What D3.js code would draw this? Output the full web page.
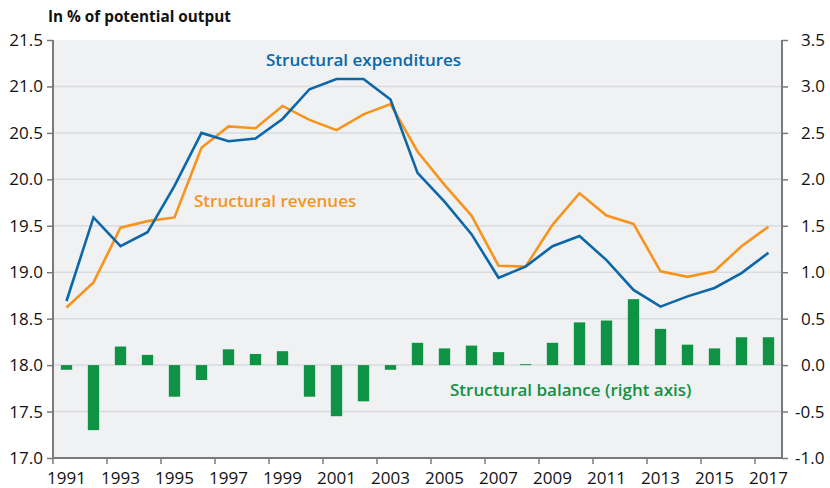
<!DOCTYPE html>
<html>
<head>
<meta charset="utf-8">
<script src="https://cdn.jsdelivr.net/npm/d3@7"></script>
<style>
  body { margin: 0; background: #fff; }
  svg { display: block; font-family: "Open Sans", "Noto Sans", sans-serif; }
</style>
</head>
<body>
<svg id="chart" width="830" height="488"></svg>
<script>
// years on the x axis
var years = d3.range(1991, 2018);
var yearTicks = years.filter(function(y) { return y % 2 === 1; });

// structural expenditures, % of potential output (left axis)
var expenditures = [18.69, 19.59, 19.28, 19.43, 19.93, 20.50, 20.41, 20.44, 20.65, 20.97,
                    21.08, 21.08, 20.86, 20.07, 19.76, 19.41, 18.94, 19.06, 19.28, 19.39,
                    19.13, 18.81, 18.63, 18.74, 18.83, 18.99, 19.21];

// structural revenues, % of potential output (left axis)
var revenues = [18.62, 18.89, 19.48, 19.55, 19.59, 20.34, 20.57, 20.55, 20.79, 20.64,
                20.53, 20.70, 20.81, 20.30, 19.94, 19.61, 19.07, 19.06, 19.51, 19.85,
                19.61, 19.52, 19.01, 18.95, 19.01, 19.28, 19.49];

// structural balance (right axis)
var balance = [-0.05, -0.70, 0.20, 0.11, -0.34, -0.16, 0.17, 0.12, 0.15, -0.34,
               -0.55, -0.39, -0.05, 0.24, 0.18, 0.21, 0.14, 0.01, 0.24, 0.46,
               0.48, 0.71, 0.39, 0.22, 0.18, 0.30, 0.30];

var leftTicks = [17.0, 17.5, 18.0, 18.5, 19.0, 19.5, 20.0, 20.5, 21.0, 21.5];
var rightTicks = [-1.0, -0.5, 0.0, 0.5, 1.0, 1.5, 2.0, 2.5, 3.0, 3.5];

var svg = d3.select("#chart"),
    margin = {top: 40, right: 48, bottom: 30, left: 53},
    width = +svg.attr("width") - margin.left - margin.right,
    height = +svg.attr("height") - margin.top - margin.bottom,
    g = svg.append("g").attr("transform", "translate(" + margin.left + "," + margin.top + ")");

var blue = "#0b67a8", orange = "#f7941d", green = "#0e9345";

var x = d3.scaleBand().domain(years).range([0, width]).padding(0);
var yL = d3.scaleLinear().domain([17, 21.5]).range([height, 0]);
var yR = d3.scaleLinear().domain([-1, 3.5]).range([height, 0]);
var cx = function(yr) { return x(yr) + x.bandwidth() / 2; };

// plot background
g.append("rect")
    .attr("width", width)
    .attr("height", height)
    .attr("fill", "#f0f1f3");

// grid
g.append("g").selectAll("line")
    .data(leftTicks.slice(1, -1))
    .enter().append("line")
    .attr("x1", 0).attr("x2", width)
    .attr("y1", function(d) { return yL(d); })
    .attr("y2", function(d) { return yL(d); })
    .attr("stroke", "#d9dbde")
    .attr("stroke-width", 1.5);

// balance bars
var barW = x.bandwidth() * 0.42;
g.append("g").selectAll("rect")
    .data(balance)
    .enter().append("rect")
    .attr("x", function(d, i) { return cx(years[i]) - barW / 2; })
    .attr("y", function(d) { return yR(Math.max(0, d)); })
    .attr("width", barW)
    .attr("height", function(d) { return Math.abs(yR(d) - yR(0)); })
    .attr("fill", green);

var line = d3.line()
    .x(function(d, i) { return cx(years[i]); })
    .y(function(d) { return yL(d); });

g.append("path").datum(revenues)
    .attr("fill", "none").attr("stroke", orange)
    .attr("stroke-width", 2.6).attr("stroke-linejoin", "miter")
    .attr("d", line);

g.append("path").datum(expenditures)
    .attr("fill", "none").attr("stroke", blue)
    .attr("stroke-width", 2.6).attr("stroke-linejoin", "miter")
    .attr("d", line);

// axes
var axisColor = "#7a7a7a";
var fmt = function(d) { return d3.format(".1f")(d).replace("\u2212", "-"); };

var ax = g.append("g")
    .call(d3.axisLeft(yL).tickValues(leftTicks).tickFormat(fmt).tickSize(6).tickPadding(4));
var axR = g.append("g").attr("transform", "translate(" + width + ",0)")
    .call(d3.axisRight(yR).tickValues(rightTicks).tickFormat(fmt).tickSize(6).tickPadding(13));
var axB = g.append("g").attr("transform", "translate(0," + height + ")")
    .call(d3.axisBottom(x).tickValues(yearTicks).tickSize(0).tickPadding(14));

// negatives on the right axis hang their minus sign to the left
axR.selectAll(".tick text")
    .attr("dx", function(d) { return d < 0 ? -6 : 0; });

// bottom ticks sit on the left edge of each labelled year
axB.selectAll(".tick").append("line")
    .attr("x1", -x.bandwidth() / 2).attr("x2", -x.bandwidth() / 2)
    .attr("y1", 0).attr("y2", 6)
    .attr("stroke", axisColor).attr("stroke-width", 1.5);

[ax, axR, axB].forEach(function(a) {
    a.select(".domain").attr("stroke", axisColor).attr("stroke-width", 2);
    a.selectAll(".tick line").attr("stroke", axisColor).attr("stroke-width", 1.5);
    a.selectAll(".tick text")
        .attr("fill", "#111")
        .style("font-size", "17px")
        .style("font-family", "'Open Sans', sans-serif");
});
axB.select(".domain").attr("d", "M0,0H" + width);
ax.select(".domain").attr("d", "M0,0V" + height);
axR.select(".domain").attr("d", "M0,0V" + height);

// titles and series labels
svg.append("text")
    .attr("x", 48).attr("y", 22)
    .attr("font-weight", 700)
    .attr("font-size", 15.3)
    .attr("fill", "#111")
    .text("In % of potential output");

g.append("text")
    .attr("x", 266 - margin.left).attr("y", 66 - margin.top)
    .attr("font-weight", 600).attr("font-size", 17)
    .attr("fill", blue)
    .text("Structural expenditures");

g.append("text")
    .attr("x", 194 - margin.left).attr("y", 207 - margin.top)
    .attr("font-weight", 600).attr("font-size", 17)
    .attr("fill", orange)
    .text("Structural revenues");

g.append("text")
    .attr("x", 450 - margin.left).attr("y", 396 - margin.top)
    .attr("font-weight", 600).attr("font-size", 17)
    .attr("fill", green)
    .text("Structural balance (right axis)");
</script>
</body>
</html>
